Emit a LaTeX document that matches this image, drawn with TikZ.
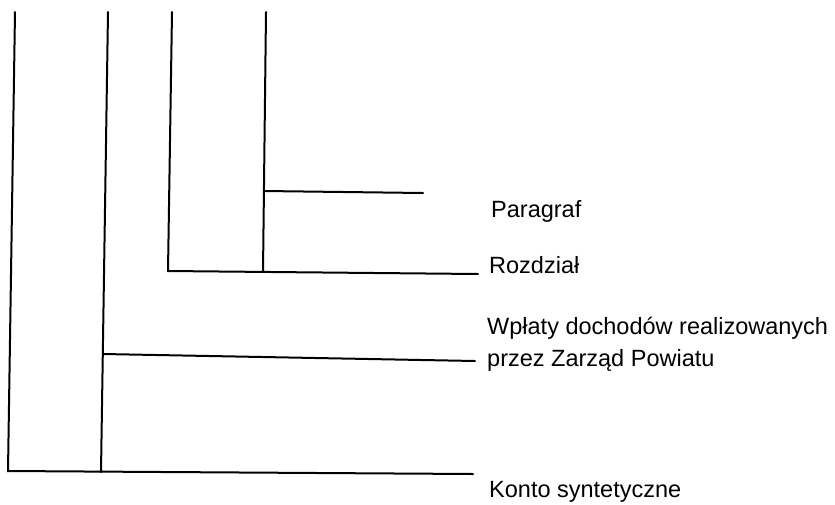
\documentclass[tikz,border=0pt]{standalone}
\usepackage{fontspec}
\setmainfont{Liberation Sans}
\begin{document}
\begin{tikzpicture}[x=1pt,y=-1pt,
  stem/.style={line width=2pt, black, line cap=round},
  lbl/.style={anchor=base west, inner sep=0pt, font=\fontsize{23.5}{28}\selectfont}]
\useasboundingbox (0,0) rectangle (835,504);
% end points
\coordinate (a1) at (15,12);   \coordinate (a2) at (8,471);   \coordinate (a3) at (473,474);
\coordinate (b1) at (108,12);  \coordinate (b2) at (101,472);
\coordinate (b3) at (103,354); \coordinate (b4) at (475,361);
\coordinate (c1) at (172,12);  \coordinate (c2) at (168,271);  \coordinate (c3) at (478,274);
\coordinate (d1) at (266,12);  \coordinate (d2) at (263,272);
\coordinate (d3) at (264,191); \coordinate (d4) at (423,193);
% labels
\node[lbl] (par) at (491,217) {Paragraf};
\node[lbl] (roz) at (489,273) {Rozdział};
\node[lbl] (wp1) at (487,334) {Wpłaty dochodów realizowanych};
\node[lbl] (wp2) at (487,366) {przez Zarząd Powiatu};
\node[lbl] (kon) at (489,497) {Konto syntetyczne};
% lines
\draw[stem] (a1) -- (a2) -- (a3);
\draw[stem] (b1) -- (b2);
\draw[stem] (b3) -- (b4);
\draw[stem] (c1) -- (c2) -- (c3);
\draw[stem] (d1) -- (d2);
\draw[stem] (d3) -- (d4);
\end{tikzpicture}
\end{document}
